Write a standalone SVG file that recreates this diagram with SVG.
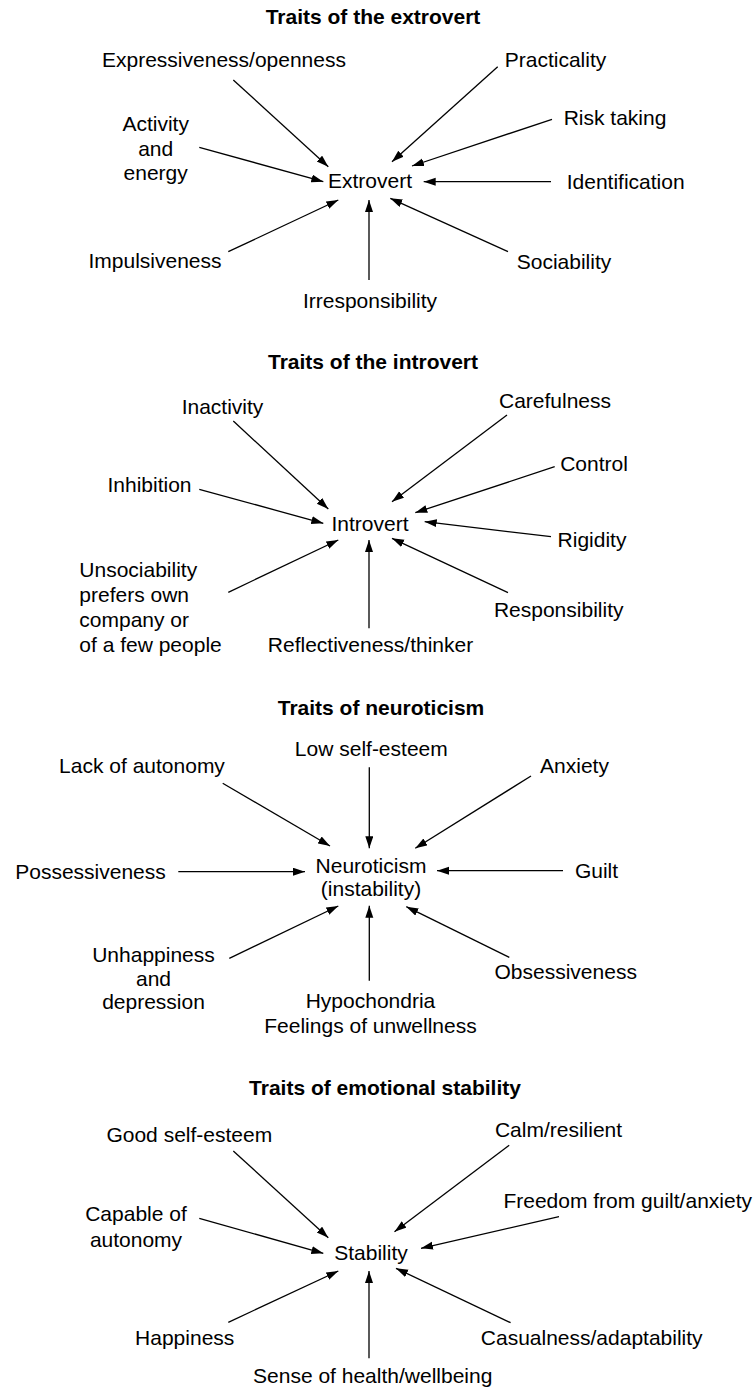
<svg xmlns="http://www.w3.org/2000/svg" width="755" height="1388" viewBox="0 0 755 1388">
<defs>
<style>
text{font-family:"Liberation Sans",Arial,Helvetica,sans-serif;font-size:21px;fill:#000;text-anchor:middle}
.t{font-weight:bold}
.s{text-anchor:start}
#edges line{stroke:#000;stroke-width:1.3;marker-end:url(#ah)}
</style>
<marker id="ah" markerWidth="13" markerHeight="9" refX="12" refY="4" orient="auto" markerUnits="userSpaceOnUse"><path d="M0,0 L12,4 L0,8 z" fill="#000"/></marker>
</defs>
<rect width="755" height="1388" fill="#fff"/>

<!-- Section 1 -->
<text class="t" x="373" y="24">Traits of the extrovert</text>
<g id="extrovert"><text x="370" y="188">Extrovert</text></g>
<g id="expressiveness"><text x="224" y="66.5">Expressiveness/openness</text></g>
<g id="practicality"><text x="555.5" y="67">Practicality</text></g>
<g id="activity"><text x="155.7" y="131">Activity</text><text x="155.7" y="155.5">and</text><text x="155.7" y="180">energy</text></g>
<g id="risk"><text x="615" y="125">Risk taking</text></g>
<g id="identification"><text x="625.7" y="189">Identification</text></g>
<g id="impulsiveness"><text x="155" y="268">Impulsiveness</text></g>
<g id="sociability"><text x="564" y="269">Sociability</text></g>
<g id="irresponsibility"><text x="370" y="308">Irresponsibility</text></g>

<!-- Section 2 -->
<text class="t" x="373" y="369">Traits of the introvert</text>
<g id="introvert"><text x="370" y="531">Introvert</text></g>
<g id="inactivity"><text x="222.5" y="414">Inactivity</text></g>
<g id="carefulness"><text x="555" y="407.7">Carefulness</text></g>
<g id="control"><text x="594" y="471">Control</text></g>
<g id="inhibition"><text x="149.5" y="492">Inhibition</text></g>
<g id="rigidity"><text x="592" y="546.7">Rigidity</text></g>
<g id="unsociability"><text class="s" x="79.3" y="576.7">Unsociability</text><text class="s" x="79.3" y="601.7">prefers own</text><text class="s" x="79.3" y="626.7">company or</text><text class="s" x="79.3" y="651.7">of a few people</text></g>
<g id="responsibility"><text x="558.7" y="616.7">Responsibility</text></g>
<g id="reflectiveness"><text x="370.5" y="652">Reflectiveness/thinker</text></g>

<!-- Section 3 -->
<text class="t" x="381" y="715">Traits of neuroticism</text>
<g id="neuroticism"><text x="371" y="872.5">Neuroticism</text><text x="371" y="896">(instability)</text></g>
<g id="lowselfesteem"><text x="371.3" y="756">Low self-esteem</text></g>
<g id="lackautonomy"><text x="142" y="772.7">Lack of autonomy</text></g>
<g id="anxiety"><text x="574.5" y="773.3">Anxiety</text></g>
<g id="possessiveness"><text x="90.5" y="879">Possessiveness</text></g>
<g id="guilt"><text x="596.5" y="878.3">Guilt</text></g>
<g id="unhappiness"><text x="153.5" y="961.7">Unhappiness</text><text x="153.5" y="986">and</text><text x="153.5" y="1009.3">depression</text></g>
<g id="obsessiveness"><text x="565.7" y="979">Obsessiveness</text></g>
<g id="hypochondria"><text x="370.5" y="1008.3">Hypochondria</text><text x="370.5" y="1033.3">Feelings of unwellness</text></g>

<!-- Section 4 -->
<text class="t" x="385" y="1095">Traits of emotional stability</text>
<g id="stability"><text x="371" y="1260">Stability</text></g>
<g id="goodselfesteem"><text x="189.3" y="1141.7">Good self-esteem</text></g>
<g id="calm"><text x="558.5" y="1136.7">Calm/resilient</text></g>
<g id="capable"><text x="136" y="1221">Capable of</text><text x="136" y="1246.7">autonomy</text></g>
<g id="freedom"><text class="s" x="503.4" y="1208.3">Freedom from guilt/anxiety</text></g>
<g id="happiness"><text x="184.7" y="1345">Happiness</text></g>
<g id="casualness"><text x="591.7" y="1345">Casualness/adaptability</text></g>
<g id="sense"><text x="372.7" y="1383">Sense of health/wellbeing</text></g>

<g id="edges">
<line x1="233.3" y1="80" x2="328.3" y2="166.7"/>
<line x1="497.7" y1="66.7" x2="392" y2="161.7"/>
<line x1="199.3" y1="147.3" x2="323.3" y2="181.7"/>
<line x1="552" y1="119.3" x2="412" y2="166"/>
<line x1="551" y1="181.7" x2="423.7" y2="181.7"/>
<line x1="228.3" y1="251.7" x2="338.3" y2="200"/>
<line x1="369" y1="280" x2="369" y2="200"/>
<line x1="508" y1="251.7" x2="390.3" y2="198.3"/>

<line x1="233.3" y1="421" x2="328.3" y2="509"/>
<line x1="507" y1="415" x2="392" y2="501.7"/>
<line x1="199.3" y1="489.3" x2="323.3" y2="523.3"/>
<line x1="554.7" y1="466.7" x2="415.3" y2="512.7"/>
<line x1="551" y1="536.7" x2="424.7" y2="521.7"/>
<line x1="228.3" y1="592.3" x2="338.3" y2="540"/>
<line x1="369" y1="628.3" x2="369" y2="540"/>
<line x1="508" y1="592.7" x2="392" y2="538.3"/>

<line x1="222.7" y1="783.3" x2="330" y2="846"/>
<line x1="369.3" y1="767.3" x2="369.3" y2="848.3"/>
<line x1="531" y1="776" x2="415.3" y2="848.3"/>
<line x1="178.3" y1="871.7" x2="305" y2="871.7"/>
<line x1="563" y1="870.7" x2="437" y2="870.7"/>
<line x1="229.3" y1="958.3" x2="338.3" y2="906"/>
<line x1="369.3" y1="980.7" x2="369.3" y2="905.7"/>
<line x1="509.3" y1="957.3" x2="406.3" y2="906.7"/>

<line x1="233.3" y1="1151" x2="328.3" y2="1237.7"/>
<line x1="509.2" y1="1145.3" x2="394.5" y2="1231.7"/>
<line x1="199.3" y1="1218.3" x2="323.3" y2="1253.3"/>
<line x1="559" y1="1216.7" x2="421" y2="1248.3"/>
<line x1="228.3" y1="1322.3" x2="338.3" y2="1271"/>
<line x1="369" y1="1358.3" x2="369" y2="1271"/>
<line x1="510.6" y1="1322.7" x2="396" y2="1268.3"/>
</g>
</svg>
